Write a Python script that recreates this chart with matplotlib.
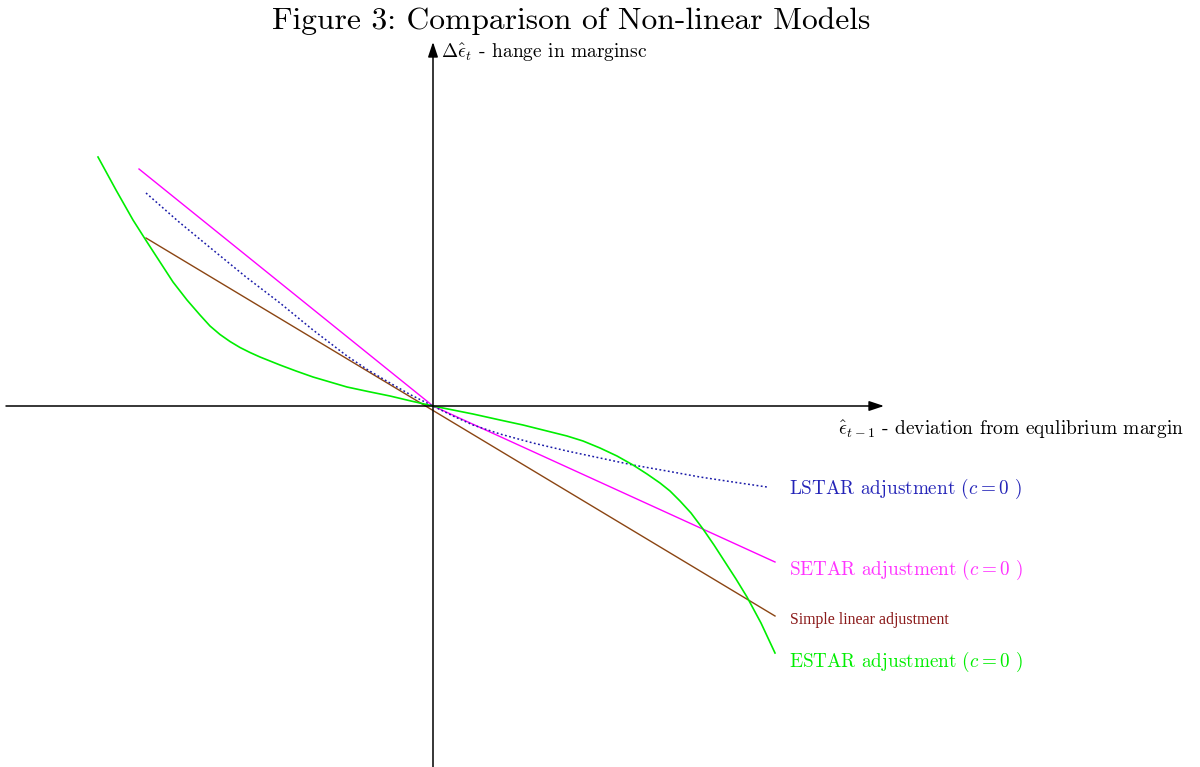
"""
Figure 3 - Comparison of non-linear adjustment models
(simple linear, SETAR, LSTAR, ESTAR) around the equilibrium margin
"""

import matplotlib
matplotlib.use("Agg")
import matplotlib.pyplot as plt

plt.rcParams['font.family'] = 'cmr10'
plt.rcParams['mathtext.fontset'] = 'cm'
plt.rcParams['axes.unicode_minus'] = False

# ── Data (arbitrary units) ───────────────────────────────────────────────────
linear_x = [-2.87, 3.42]
linear_y = [1.68, -2.10]

setar_x = [-2.94, 0.0, 3.42]
setar_y = [2.37, 0.0, -1.56]

lstar_x = [-2.87, -2.54, -2.20, -1.87, -1.53, -1.20, -0.86, -0.65, -0.43,
           -0.22, 0.0, 0.20, 0.40, 0.67, 1.00, 1.34, 1.67, 2.00, 2.34,
           2.67, 3.00, 3.34]
lstar_y = [2.13, 1.84, 1.56, 1.29, 1.03, 0.76, 0.50, 0.36, 0.23,
           0.11, 0.0, -0.10, -0.19, -0.28, -0.37, -0.45, -0.52, -0.59, -0.65,
           -0.71, -0.76, -0.81]

estar_x = [-3.35, -3.17, -3.00, -2.86, -2.73, -2.60, -2.46, -2.33, -2.23,
           -2.13, -2.03, -1.93, -1.83, -1.73, -1.63, -1.53, -1.37, -1.20,
           -1.03, -0.86, -0.65, -0.43, -0.22, 0.0, 0.20, 0.40, 0.67, 0.90,
           1.10, 1.34, 1.50, 1.67, 1.84, 2.00, 2.14, 2.27, 2.37, 2.47, 2.58,
           2.70, 2.81, 2.92, 3.03, 3.14, 3.28, 3.42]
estar_y = [2.49, 2.16, 1.86, 1.64, 1.44, 1.24, 1.06, 0.91, 0.80,
           0.715, 0.645, 0.585, 0.535, 0.49, 0.45, 0.41, 0.35, 0.29,
           0.24, 0.19, 0.145, 0.10, 0.05, 0.0, -0.04, -0.08, -0.14, -0.19,
           -0.24, -0.30, -0.35, -0.42, -0.50, -0.59, -0.68, -0.77, -0.85, -0.95, -1.07,
           -1.23, -1.39, -1.56, -1.73, -1.91, -2.17, -2.47]

# ── Figure ────────────────────────────────────────────────────────────────────
fig = plt.figure(figsize=(12, 7.67), dpi=100)
ax = fig.add_axes([0, 0, 1, 1])
ax.set_xlim(-4.33, 7.67)
ax.set_ylim(-3.61, 4.06)
ax.axis('off')

# axes with arrow heads
arr = dict(arrowstyle='-|>,head_length=0.6,head_width=0.2', lw=1.1,
           color='black', mutation_scale=15, shrinkA=0, shrinkB=0)
ax.annotate('', xy=(4.51, 0), xytext=(-4.27, 0), arrowprops=arr)
ax.annotate('', xy=(0, 3.64), xytext=(0, -3.62), arrowprops=arr)

# curves
ax.plot(linear_x, linear_y, color='#8b4513', lw=1.0)
ax.plot(setar_x, setar_y, color='#ff00ff', lw=1.0)
ax.plot(lstar_x, lstar_y, color='#1a1aa8', lw=1.1, linestyle=(0, (1.2, 1.6)))
ax.plot(estar_x, estar_y, color='#00ee00', lw=1.2)

# labels
ax.text(1.38, 3.77, 'Figure 3: Comparison of Non-linear Models',
        fontsize=22.7, ha='center', va='baseline')
ax.text(0.08, 3.48, r'$\Delta\hat{\epsilon}_t$ - hange in marginsc',
        fontsize=14, ha='left', va='baseline')
ax.text(4.05, -0.29, r'$\hat{\epsilon}_{t-1}$ - deviation from equlibrium margin',
        fontsize=14, ha='left', va='baseline')

ax.text(3.56, -0.88, r'LSTAR adjustment ($c=0$ )', color='#2424b8',
        fontsize=13.8, ha='left', va='baseline')
ax.text(3.56, -1.69, r'SETAR adjustment ($c=0$ )', color='#ff33ff',
        fontsize=13.8, ha='left', va='baseline')
ax.text(3.57, -2.18, 'Simple linear adjustment', color='#8b1a1a',
        family='Liberation Serif', fontsize=11.4, ha='left', va='baseline')
ax.text(3.56, -2.61, r'ESTAR adjustment ($c=0$ )', color='#00ee00',
        fontsize=13.8, ha='left', va='baseline')

plt.savefig('out.png', dpi=100)
